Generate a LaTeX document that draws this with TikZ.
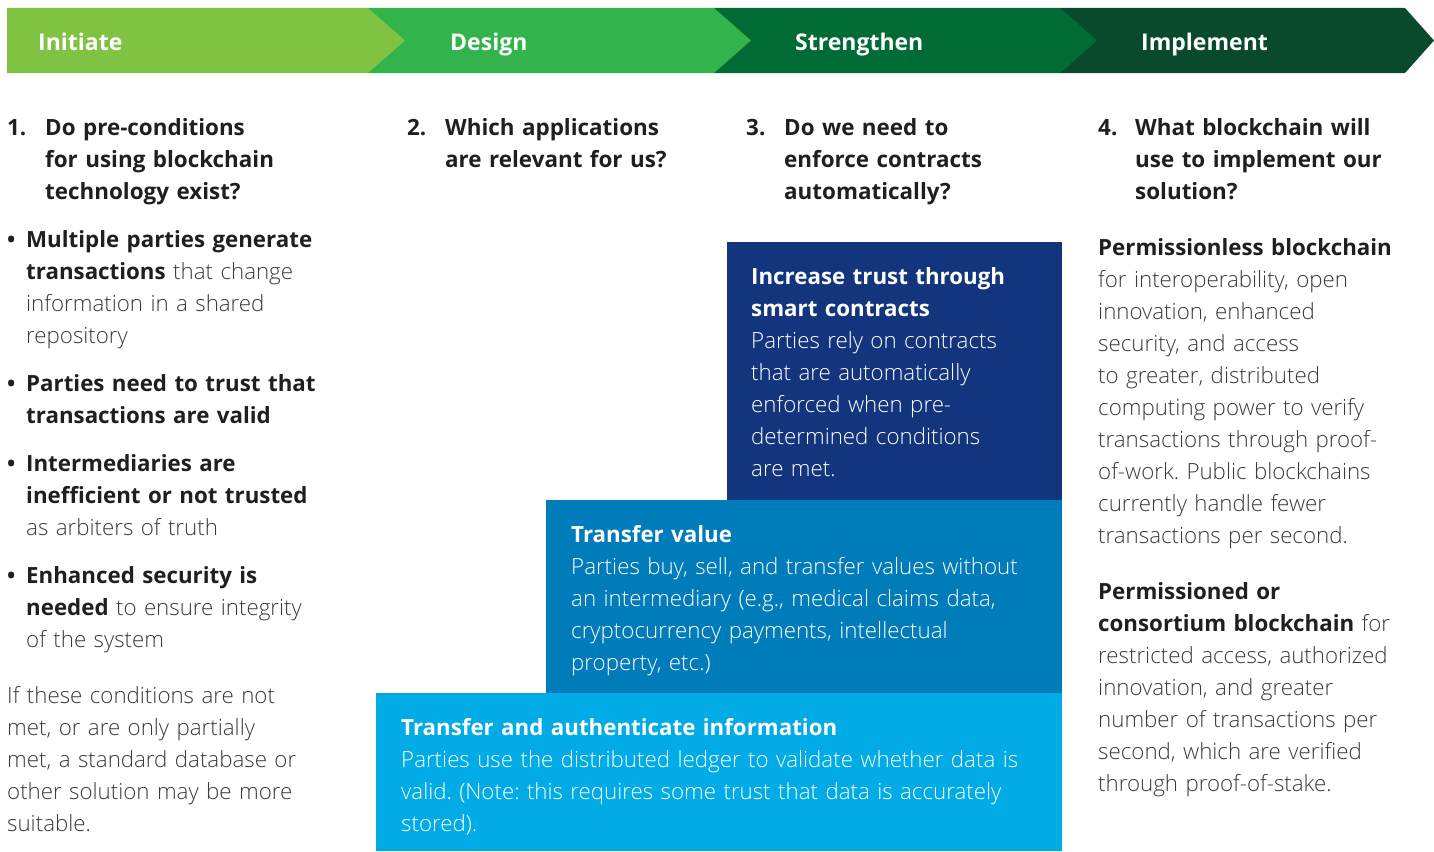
\documentclass[tikz,border=0pt]{standalone}
\usepackage{fontspec}
\IfFontExistsTF{Open Sans Light}{\setmainfont{Open Sans Light}[BoldFont={Open Sans Bold}]}{\setmainfont{Open Sans}[BoldFont={Open Sans Bold}]}
\frenchspacing
\definecolor{gA}{HTML}{80C242}
\definecolor{gB}{HTML}{33B34B}
\definecolor{gC}{HTML}{006B35}
\definecolor{gD}{HTML}{0A4A2C}
\definecolor{navy}{HTML}{13357E}
\definecolor{midblue}{HTML}{007CBA}
\definecolor{lightblue}{HTML}{00ABE6}
\definecolor{bodygray}{HTML}{3A3A3A}
\definecolor{headgray}{HTML}{1F1F1F}
\begin{document}
\begin{tikzpicture}[x=1pt,y=-1pt,
  txt/.style={anchor=base west, inner sep=0pt, text width=720pt, align=left,
    font=\fontsize{22.3}{32}\selectfont, text=bodygray},
  headtxt/.style={txt, font=\fontsize{22.4}{32}\selectfont\bfseries, text=headgray},
  boxtxt/.style={txt, text=white},
  bandlabel/.style={anchor=base west, inner sep=0pt, text=white, font=\fontsize{23}{28}\selectfont\bfseries},
  panel/.style={anchor=north west, inner sep=0pt, draw=none},
  bulletmark/.style={anchor=base west, inner sep=0pt, text=headgray, font=\fontsize{22}{32}\selectfont\bfseries}
]
\useasboundingbox (0,0) rectangle (1434,851);

% header chevrons (drawn right to left so tips overlay)
\fill[gD] (1060,8) -- (1405,8) -- (1434,40.5) -- (1405,73) -- (1060,73) -- cycle;
\fill[gC] (714,8) -- (1060,8) -- (1097,40.5) -- (1060,73) -- (714,73) -- cycle;
\fill[gB] (368,8) -- (714,8) -- (751,40.5) -- (714,73) -- (368,73) -- cycle;
\fill[gA] (7,8) -- (368,8) -- (405,40.5) -- (368,73) -- (7,73) -- cycle;
\node[bandlabel] (lInitiate) at (38,50.5) {Initiate};
\node[bandlabel] (lDesign) at (450,50.5) {Design};
\node[bandlabel] (lStrengthen) at (795,50.5) {Strengthen};
\node[bandlabel] (lImplement) at (1141,50.5) {Implement};

% questions
\node[headtxt] (n1) at (7,135.5) {1.};
\node[headtxt] (q1) at (45,135.5) {Do pre-conditions\\for using blockchain\\technology exist?};
\node[headtxt] (n2) at (407,135.5) {2.};
\node[headtxt] (q2) at (445,135.5) {Which applications\\are relevant for us?};
\node[headtxt] (n3) at (746,135.5) {3.};
\node[headtxt] (q3) at (784,135.5) {Do we need to\\enforce contracts\\automatically?};
\node[headtxt] (n4) at (1098,135.5) {4.};
\node[headtxt] (q4) at (1135,135.5) {What blockchain will\\use to implement our\\solution?};

% column 1 bullets
\node[bulletmark] (d1) at (7,247.5) {\textbullet};
\node[txt] (b1) at (26,247.5) {\textbf{\color{headgray}Multiple parties generate}\\\textbf{\color{headgray}transactions} that change\\information in a shared\\repository};
\node[bulletmark] (d2) at (7,391.5) {\textbullet};
\node[txt] (b2) at (26,391.5) {\textbf{\color{headgray}Parties need to trust that}\\\textbf{\color{headgray}transactions are valid}};
\node[bulletmark] (d3) at (7,471.5) {\textbullet};
\node[txt] (b3) at (26,471.5) {\textbf{\color{headgray}Intermediaries are}\\\textbf{\color{headgray}inefficient or not trusted}\\as arbiters of truth};
\node[bulletmark] (d4) at (7,583.5) {\textbullet};
\node[txt] (b4) at (26,583.5) {\textbf{\color{headgray}Enhanced security is}\\\textbf{\color{headgray}needed} to ensure integrity\\of the system};
\node[txt] (p1) at (7,703.5) {If these conditions are not\\met, or are only partially\\met, a standard database or\\other solution may be more\\suitable.};

% stacked panels
\node[panel, fill=lightblue, minimum width=686pt, minimum height=158pt] (pLight) at (376,693) {};
\node[panel, fill=midblue, minimum width=516pt, minimum height=193pt] (pMid) at (546,500) {};
\node[panel, fill=navy, minimum width=335pt, minimum height=258pt] (pNavy) at (727,242) {};

\node[boxtxt] (tNavy) at (751,284.5) {\textbf{Increase trust through}\\\textbf{smart contracts}\\Parties rely on contracts\\that are automatically\\enforced when pre-\\determined conditions\\are met.};
\node[boxtxt] (tMid) at (571,542.5) {\textbf{Transfer value}\\Parties buy, sell, and transfer values without\\an intermediary (e.g., medical claims data,\\cryptocurrency payments, intellectual\\property, etc.)};
\node[boxtxt] (tLight) at (401,735.5) {\textbf{Transfer and authenticate information}\\Parties use the distributed ledger to validate whether data is\\valid. (Note: this requires some trust that data is accurately\\stored).};

% column 4
\node[txt] (r1) at (1098,255.5) {\textbf{\color{headgray}Permissionless blockchain}\\for interoperability, open\\innovation, enhanced\\security, and access\\to greater, distributed\\computing power to verify\\transactions through proof-\\of-work. Public blockchains\\currently handle fewer\\transactions per second.};
\node[txt] (r2) at (1098,599.5) {\textbf{\color{headgray}Permissioned or}\\\textbf{\color{headgray}consortium blockchain} for\\restricted access, authorized\\innovation, and greater\\number of transactions per\\second, which are verified\\through proof-of-stake.};
\end{tikzpicture}
\end{document}
